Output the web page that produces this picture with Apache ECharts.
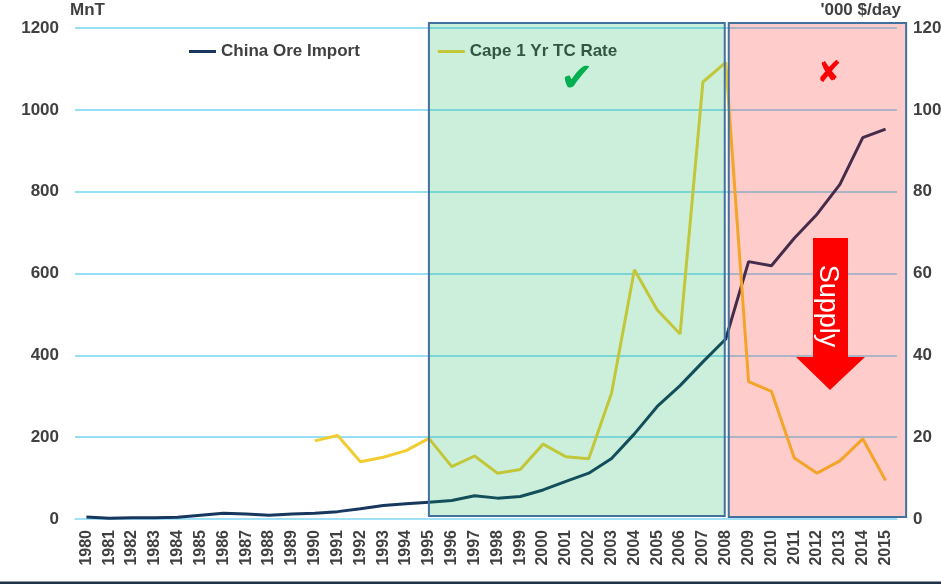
<!DOCTYPE html>
<html>
<head>
<meta charset="utf-8">
<script src="https://cdn.jsdelivr.net/npm/echarts@6/dist/echarts.min.js"></script>
<style>
  html, body { margin: 0; padding: 0; background: #fff; }
  #chart { width: 941px; height: 584px; }
</style>
</head>
<body>
<div id="chart"></div>
<script>
var years = ['1980', '1981', '1982', '1983', '1984', '1985', '1986', '1987', '1988', '1989',
  '1990', '1991', '1992', '1993', '1994', '1995', '1996', '1997', '1998', '1999',
  '2000', '2001', '2002', '2003', '2004', '2005', '2006', '2007', '2008', '2009',
  '2010', '2011', '2012', '2013', '2014', '2015'];

// MnT
var chinaImport = [5, 2, 3, 3, 4, 9, 14, 12, 9, 12,
  14, 18, 25, 33, 37, 41, 45, 57, 51, 55,
  71, 92, 112, 148, 208, 275, 326, 384, 440, 629,
  619, 686, 745, 818, 932, 953];

// '000 $/day
var capeRate = [null, null, null, null, null, null, null, null, null, null,
  19.1, 20.4, 14, 15.1, 16.7, 19.7, 12.8, 15.4, 11.2, 12.1,
  18.3, 15.2, 14.7, 30.8, 60.9, 51.1, 45.2, 106.8, 111.6, 33.6,
  31.2, 14.9, 11.2, 14.2, 19.6, 9.4];

var leftTicks = [0, 1200, 200];
var rightTicks = [0, 120, 20];

var FONT = 'Liberation Sans, Arial, sans-serif';
var TXT = '#404040';

var chart = echarts.init(document.getElementById('chart'), null, { renderer: 'canvas' });

function plain(v) { return String(v); }

var option = {
  animation: false,
  grid: {
    left: 75,
    right: 44,
    top: 28,
    bottom: 65,
    containLabel: false,
    outerBoundsMode: 'none'
  },
  legend: {
    left: 184,
    top: 38,
    itemGap: 78,
    itemWidth: 27,
    itemHeight: 3,
    icon: 'rect',
    textStyle: {
      color: TXT,
      fontWeight: 'bold',
      fontSize: 17,
      fontFamily: FONT
    },
    data: ['China Ore Import', 'Cape 1 Yr TC Rate']
  },
  xAxis: {
    type: 'category',
    data: years,
    boundaryGap: true,
    axisLine: {
      show: true,
      lineStyle: { color: '#a6e2f7', width: 1.5 }
    },
    axisTick: { show: false },
    axisLabel: {
      rotate: 90,
      interval: 0,
      margin: 11,
      color: TXT,
      fontWeight: 'bold',
      fontSize: 16,
      fontFamily: FONT
    }
  },
  yAxis: [{
    type: 'value',
    name: 'MnT',
    nameGap: 9,
    nameTextStyle: {
      color: TXT,
      fontWeight: 'bold',
      fontSize: 17,
      fontFamily: FONT,
      align: 'left',
      padding: [0, 0, 0, -5]
    },
    min: leftTicks[0],
    max: leftTicks[1],
    interval: leftTicks[2],
    axisLine: { show: false },
    axisTick: { show: false },
    axisLabel: {
      margin: 16,
      color: TXT,
      fontWeight: 'bold',
      fontSize: 17,
      fontFamily: FONT,
      formatter: plain
    },
    splitLine: {
      lineStyle: { color: '#74d4f2', width: 1.5 }
    }
  }, {
    type: 'value',
    name: "'000 $/day",
    nameGap: 9,
    nameTextStyle: {
      color: TXT,
      fontWeight: 'bold',
      fontSize: 17,
      fontFamily: FONT,
      align: 'right',
      padding: [0, -4, 0, 0]
    },
    min: rightTicks[0],
    max: rightTicks[1],
    interval: rightTicks[2],
    position: 'right',
    axisLine: { show: false },
    axisTick: { show: false },
    axisLabel: {
      margin: 16,
      color: TXT,
      fontWeight: 'bold',
      fontSize: 17,
      fontFamily: FONT,
      formatter: plain
    },
    splitLine: { show: false }
  }],
  series: [{
    name: 'China Ore Import',
    type: 'line',
    yAxisIndex: 0,
    showSymbol: false,
    color: '#17375e',
    lineStyle: { width: 3, color: '#17375e' },
    data: chinaImport
  }, {
    name: 'Cape 1 Yr TC Rate',
    type: 'line',
    yAxisIndex: 1,
    showSymbol: false,
    connectNulls: false,
    color: '#f2cd32',
    lineStyle: { width: 3, color: '#f2cd32' },
    data: capeRate
  }]
};

chart.setOption(option);

// shaded periods, placed from the axis scales
var x95 = chart.convertToPixel({ xAxisIndex: 0 }, '1995');
var x08 = chart.convertToPixel({ xAxisIndex: 0 }, '2008');
var x15 = chart.convertToPixel({ xAxisIndex: 0 }, '2015');
var band = chart.convertToPixel({ xAxisIndex: 0 }, '1981') - chart.convertToPixel({ xAxisIndex: 0 }, '1980');
var yTop = chart.convertToPixel({ yAxisIndex: 0 }, 1200) - 5;
var yBot = chart.convertToPixel({ yAxisIndex: 0 }, 0) - 3;

chart.setOption({
  graphic: [{
    type: 'rect',
    z: 100,
    shape: { x: x95, y: yTop, width: x08 - 1 - x95, height: yBot - yTop },
    style: { fill: 'rgba(0,176,80,0.2)', stroke: '#41719c', lineWidth: 2 }
  }, {
    type: 'rect',
    z: 100,
    shape: { x: x08 + 3, y: yTop, width: x15 + band * 0.9 - x08 - 3, height: yBot - yTop + 1 },
    style: { fill: 'rgba(255,0,0,0.2)', stroke: '#41719c', lineWidth: 2 }
  }, {
    type: 'text',
    z: 101,
    x: 577,
    y: 81,
    style: {
      text: '\u2714',
      fill: '#00b050',
      font: '40px "DejaVu Sans"',
      align: 'center',
      verticalAlign: 'middle'
    }
  }, {
    type: 'text',
    z: 101,
    x: 829,
    y: 74,
    style: {
      text: '\u2718',
      fill: '#ff0000',
      font: 'bold 30px "DejaVu Sans"',
      align: 'center',
      verticalAlign: 'middle'
    }
  }, {
    type: 'polygon',
    z: 101,
    shape: {
      points: [[813, 238], [848, 238], [848, 357], [865, 357], [830, 390], [796, 357], [813, 357]]
    },
    style: { fill: '#ff0000' }
  }, {
    type: 'text',
    z: 102,
    x: 827,
    y: 306,
    rotation: -Math.PI / 2,
    style: {
      text: 'Supply',
      fill: '#ffffff',
      font: '27px "Liberation Sans"',
      align: 'center',
      verticalAlign: 'middle'
    }
  }, {
    type: 'rect',
    z: 101,
    shape: { x: 0, y: 581.5, width: 941, height: 2.5 },
    style: { fill: '#1f3346' }
  }]
});
</script>
</body>
</html>
